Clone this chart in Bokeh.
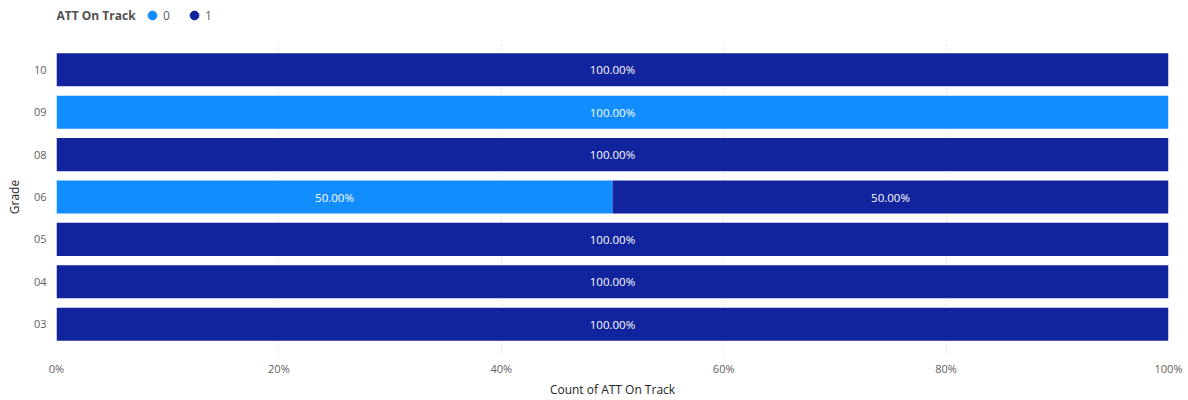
from bokeh.plotting import figure
from bokeh.layouts import column
from bokeh.models import (ColumnDataSource, FactorRange, LabelSet, Label, Legend, LegendItem,
                          NumeralTickFormatter, Range1d, FixedTicker)
from bokeh.core.properties import value
from bokeh.embed import file_html
from bokeh.resources import INLINE

grades = ["03", "04", "05", "06", "08", "09", "10"]
count_0 = [0, 0, 0, 1, 0, 1, 0]
count_1 = [1, 1, 1, 1, 1, 0, 1]
series = ["0", "1"]
colors = ["#118DFF", "#12239E"]
x_ticks = [0, 0.2, 0.4, 0.6, 0.8, 1.0]
legend_title = "ATT On Track"

totals = [a + b for a, b in zip(count_0, count_1)]
p0 = [a / t for a, t in zip(count_0, totals)]
p1 = [b / t for b, t in zip(count_1, totals)]

src = ColumnDataSource(dict(grade=grades, s0=p0, s1=p1))

FONT = "Open Sans"

# header figure holding the legend (no axes); its frame is aligned with the chart frame
h = figure(width=1188, height=30, x_range=Range1d(1, 2), y_range=Range1d(1, 2),
           x_axis_location=None, y_axis_location=None,
           output_backend="svg", toolbar_location=None,
           min_border_left=0, min_border_right=0, min_border_top=0, min_border_bottom=0)
h.grid.visible = False
h.outline_line_color = None
h.add_layout(Label(x=0, y=15, x_units="screen", y_units="screen", text=legend_title,
                   text_font=FONT, text_font_size="12px", text_font_style="bold",
                   text_color="#505050", text_baseline="middle", text_align="left"))
# legend-only renderers: their single row lies outside the header's ranges, so no mark shows
leg_src = ColumnDataSource(dict(x=[0.0] * len(series), y=[0.0] * len(series)))
leg_items = []
for i, (s, c) in enumerate(zip(series, colors)):
    r = h.scatter(x="x", y="y", source=leg_src, marker="circle", size=9, color=c)
    leg_items.append(LegendItem(label=s, renderers=[r], index=i))
legend = Legend(items=leg_items, orientation="horizontal", location=(85, 4),
                border_line_color=None, background_fill_alpha=0,
                label_text_font=FONT, label_text_font_size="12px", label_text_color="#605E5C",
                label_height=12,
                glyph_width=22, glyph_height=22, label_standoff=-4, spacing=-2, padding=0, margin=0)
h.add_layout(legend, "center")

p = figure(width=1188, height=370, y_range=FactorRange(factors=grades),
           x_range=Range1d(0, 1), output_backend="svg", toolbar_location=None,
           min_border_left=56, min_border_right=20, min_border_top=10, min_border_bottom=44)
p.y_range.range_padding = 0.38 / 7
p.y_range.range_padding_units = "percent"

rs = p.hbar_stack(["s0", "s1"], y="grade", height=0.78, color=colors, source=src, line_width=0)

lab_x, lab_y, lab_t = [], [], []
for g, a, b in zip(grades, p0, p1):
    if a > 0:
        lab_x.append(a / 2); lab_y.append(g); lab_t.append(f"{a*100:.2f}%")
    if b > 0:
        lab_x.append(a + b / 2); lab_y.append(g); lab_t.append(f"{b*100:.2f}%")
lsrc = ColumnDataSource(dict(x=lab_x, y=lab_y, t=lab_t))
p.add_layout(LabelSet(x="x", y="y", text="t", source=lsrc, text_color="white", text_font=value(FONT),
                      text_font_size="11.5px", text_align="center", text_baseline="middle"))

p.xaxis.ticker = FixedTicker(ticks=x_ticks)
p.xaxis.formatter = NumeralTickFormatter(format="0%")
for ax in [p.xaxis[0], p.yaxis[0]]:
    ax.axis_line_color = None
    ax.major_tick_line_color = None
    ax.minor_tick_line_color = None
    ax.major_tick_out = 0
    ax.major_tick_in = 0
    ax.minor_tick_out = 0
    ax.major_label_text_color = "#605E5C"
    ax.major_label_text_font = FONT
    ax.major_label_text_font_size = "11px"
    ax.axis_label_text_font = FONT
    ax.axis_label_text_font_size = "12px"
    ax.axis_label_text_color = "#252423"
    ax.axis_label_text_font_style = "normal"
p.xaxis.axis_label = "Count of ATT On Track"
p.yaxis.axis_label = "Grade"
p.xaxis.major_label_standoff = 7
p.xaxis.axis_label_standoff = 2
p.yaxis.major_label_standoff = 10
p.yaxis.axis_label_standoff = 8

p.ygrid.grid_line_color = None
p.xgrid.grid_line_color = "#D0D0D0"
p.xgrid.grid_line_dash = "1 3"
p.outline_line_color = None

layout = column(h, p, spacing=0)
open("out.html", "w").write(file_html(layout, INLINE))
